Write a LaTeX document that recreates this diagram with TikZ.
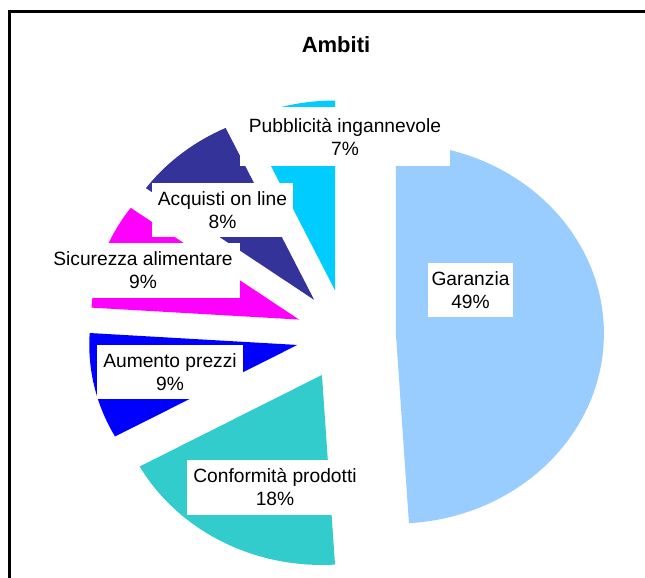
\documentclass[tikz,border=0pt]{standalone}
\usepackage{fontspec}
\setmainfont{Liberation Sans}
\usetikzlibrary{calc}
\definecolor{cgar}{HTML}{99CCFF}
\definecolor{ccon}{HTML}{33CCCC}
\definecolor{caum}{HTML}{0000FF}
\definecolor{csic}{HTML}{FF00FF}
\definecolor{cacq}{HTML}{333399}
\definecolor{cpub}{HTML}{00CCFF}
\tikzset{
  lbl/.style={fill=white, inner sep=0pt, align=center,
    font=\fontsize{19.2}{23}\selectfont},
  ttl/.style={font=\fontsize{22}{26}\selectfont\bfseries},
  frame/.style={line width=3pt, draw=black}
}
\begin{document}
\begin{tikzpicture}[x=1pt,y=-1pt]
\useasboundingbox (0,0) rectangle (645,578);
\clip (0,0) rectangle (645,578);
\fill[white] (0,0) rectangle (645,578);
\draw[frame] (9.5,600) -- (9.5,11.5) -- (700,11.5);
\node[ttl] (title) at (336,45) {Ambiti};
\coordinate (C) at (346,335);
% slices
\fill[cgar] ($(C)+(-1.8:49.92 and 45.6)$) coordinate (a1) -- ++(-90:208 and 190)
  arc[start angle=-90,end angle=86.4,x radius=208,y radius=190] -- cycle;
\fill[ccon] ($(C)+(118.8:49.92 and 45.6)$) coordinate (a2) -- ++(86.4:208 and 190)
  arc[start angle=86.4,end angle=151.2,x radius=208,y radius=190] -- cycle;
\fill[caum] ($(C)+(167.4:49.92 and 45.6)$) coordinate (a3) -- ++(151.2:208 and 190)
  arc[start angle=151.2,end angle=183.6,x radius=208,y radius=190] -- cycle;
\fill[csic] ($(C)+(199.8:49.92 and 45.6)$) coordinate (a4) -- ++(183.6:208 and 190)
  arc[start angle=183.6,end angle=216,x radius=208,y radius=190] -- cycle;
\fill[cacq] ($(C)+(230.4:49.92 and 45.6)$) coordinate (a5) -- ++(216:208 and 190)
  arc[start angle=216,end angle=244.8,x radius=208,y radius=190] -- cycle;
\fill[cpub] ($(C)+(257.4:49.92 and 45.6)$) coordinate (a6) -- ++(244.8:208 and 190)
  arc[start angle=244.8,end angle=270,x radius=208,y radius=190] -- cycle;
% labels
\node[lbl, minimum width=210pt, minimum height=59pt] (pub) at (345,136.5) {Pubblicità ingannevole\\7\%};
\node[lbl, minimum width=141pt, minimum height=54pt] (acq) at (222.5,210) {Acquisti on line\\8\%};
\node[lbl, minimum width=194pt, minimum height=55pt] (sic) at (143,270.5) {Sicurezza alimentare\\9\%};
\node[lbl, minimum width=146pt, minimum height=54pt] (aum) at (170,372) {Aumento prezzi\\9\%};
\node[lbl, minimum width=176pt, minimum height=55pt] (con) at (275,487.5) {Conformità prodotti\\18\%};
\node[lbl, minimum width=85pt, minimum height=54pt] (gar) at (470.5,290) {Garanzia\\49\%};
\end{tikzpicture}
\end{document}
